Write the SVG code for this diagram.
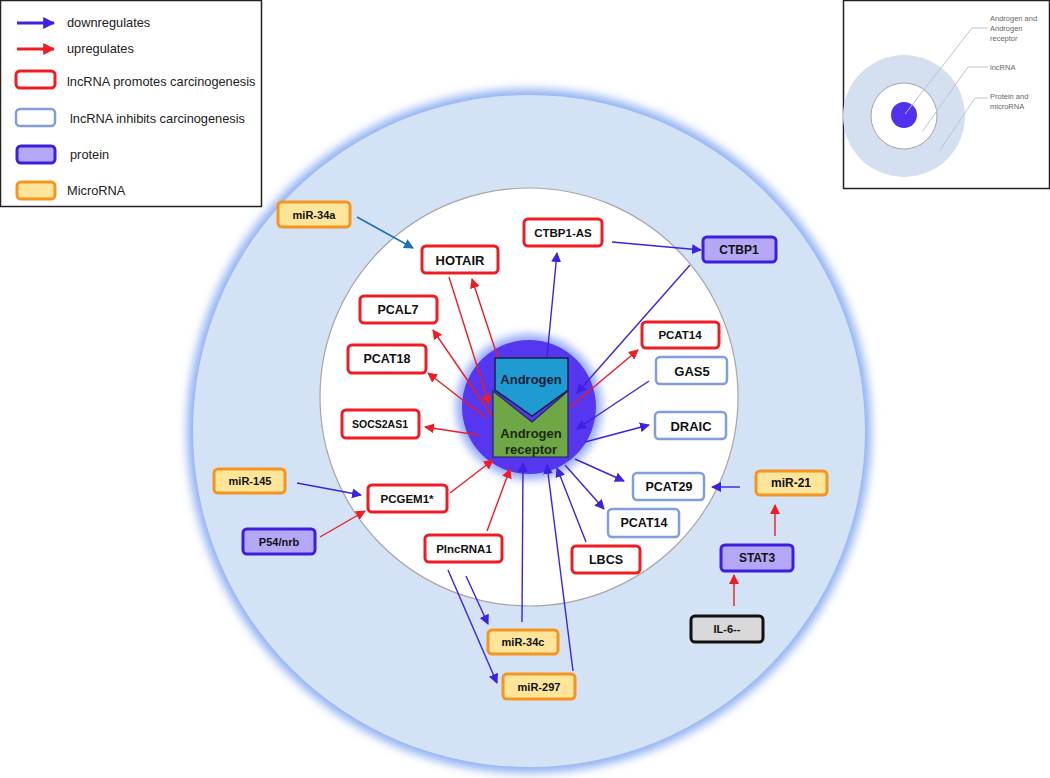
<svg xmlns="http://www.w3.org/2000/svg" width="1050" height="778" viewBox="0 0 1050 778">
<style>
text{font-family:"Liberation Sans",Arial,sans-serif;fill:#111}
.nt{font-weight:bold;text-anchor:middle;dominant-baseline:central}
.lg{font-size:12.8px;fill:#222}
.red{fill:#fff;stroke:#ee1c24;stroke-width:3}
.lb{fill:#fff;stroke:#7f9fd6;stroke-width:2.5}
.pr{fill:#b4a8f6;stroke:#3b1fdc;stroke-width:3}
.mi{fill:#ffe59a;stroke:#f5951f;stroke-width:3}
.gr{fill:#d9d9d9;stroke:#111;stroke-width:3}
.cb{stroke:#3d22e0;stroke-width:1.4;fill:none;marker-end:url(#hb)}
.cr{stroke:#ee1c24;stroke-width:1.4;fill:none;marker-end:url(#hr)}
.ct{stroke:#1f6fb5;stroke-width:1.6;fill:none;marker-end:url(#ht)}
.il{stroke:#b9c4d6;stroke-width:1;fill:none}
.it{font-size:7.5px;fill:#666}
</style>
<defs>
<marker id="hb" viewBox="0 0 10 10" refX="9" refY="5" markerWidth="10" markerHeight="10" markerUnits="userSpaceOnUse" orient="auto"><path d="M0,0L10,5L0,10z" fill="#3d22e0"/></marker>
<marker id="hr" viewBox="0 0 10 10" refX="9" refY="5" markerWidth="10" markerHeight="10" markerUnits="userSpaceOnUse" orient="auto"><path d="M0,0L10,5L0,10z" fill="#ee1c24"/></marker>
<marker id="ht" viewBox="0 0 10 10" refX="9" refY="5" markerWidth="10" markerHeight="10" markerUnits="userSpaceOnUse" orient="auto"><path d="M0,0L10,5L0,10z" fill="#1f6fb5"/></marker>
<marker id="lhb" viewBox="0 0 10 10" refX="9" refY="5" markerWidth="12" markerHeight="12" markerUnits="userSpaceOnUse" orient="auto"><path d="M0,0L10,5L0,10z" fill="#3d22e0"/></marker>
<marker id="lhr" viewBox="0 0 10 10" refX="9" refY="5" markerWidth="12" markerHeight="12" markerUnits="userSpaceOnUse" orient="auto"><path d="M0,0L10,5L0,10z" fill="#ee1c24"/></marker>
<filter id="blur6" x="-20%" y="-20%" width="140%" height="140%"><feGaussianBlur stdDeviation="5"/></filter>
<filter id="blur3" x="-30%" y="-30%" width="160%" height="160%"><feGaussianBlur stdDeviation="4"/></filter>
</defs>
<rect width="1050" height="778" fill="#fff"/>

<g id="background">
<circle cx="529" cy="431" r="342" fill="#8fb0f2" filter="url(#blur6)"/>
<circle cx="529" cy="431" r="336" fill="#d4e2f5"/>
<circle cx="529" cy="397" r="209" fill="#fff" stroke="#a6a6a6" stroke-width="1.2"/>
<circle cx="529" cy="407" r="73" fill="#98acff" filter="url(#blur3)"/>
<circle cx="529" cy="407" r="67" fill="#5636ef"/>
</g>

<g id="legend">
<rect x="0.5" y="0.5" width="261" height="206" fill="#fff" stroke="#222" stroke-width="1.5"/>
<line x1="17" y1="23" x2="54" y2="23" stroke="#3d22e0" stroke-width="3" marker-end="url(#lhb)"/>
<text class="lg" x="67" y="27">downregulates</text>
<line x1="17" y1="49" x2="54" y2="49" stroke="#ee1c24" stroke-width="3" marker-end="url(#lhr)"/>
<text class="lg" x="67" y="53">upregulates</text>
<rect x="16" y="71" width="39" height="17" rx="4" class="red" stroke-width="2"/>
<text class="lg" x="67" y="86">lncRNA promotes carcinogenesis</text>
<rect x="16" y="109" width="39" height="17" rx="4" class="lb" stroke-width="2"/>
<text class="lg" x="70" y="123">lncRNA inhibits carcinogenesis</text>
<rect x="17" y="146" width="38" height="17" rx="4" class="pr" stroke-width="2" stroke="#3a1a8a"/>
<text class="lg" x="70" y="159">protein</text>
<rect x="17" y="182" width="38" height="17" rx="4" class="mi" stroke-width="2"/>
<text class="lg" x="67" y="195">MicroRNA</text>
</g>

<g id="inset">
<rect x="843.5" y="0.5" width="206" height="188" fill="#fff" stroke="#222" stroke-width="1.5"/>
<circle cx="904" cy="116" r="61" fill="#d4dff0"/>
<circle cx="904" cy="116" r="33" fill="#fff" stroke="#a6a6a6" stroke-width="1"/>
<circle cx="904" cy="115" r="13" fill="#5230ee"/>
<polyline class="il" points="905,114 972,28 988,28"/>
<polyline class="il" points="922,132 968,67 988,67"/>
<polyline class="il" points="940,150 975,98 988,98"/>
<text class="it" x="990" y="21">Androgen and</text>
<text class="it" x="990" y="31">Androgen</text>
<text class="it" x="990" y="41">receptor</text>
<text class="it" x="990" y="70">lncRNA</text>
<text class="it" x="990" y="99">Protein and</text>
<text class="it" x="990" y="109">microRNA</text>
</g>

<g id="connectors">
<line class="ct" x1="357" y1="217" x2="413" y2="248"/>
<line class="cr" x1="449" y1="277" x2="489" y2="404"/>
<line class="cr" x1="498" y1="358" x2="472" y2="279"/>
<line class="cb" x1="547" y1="357" x2="557" y2="253"/>
<line class="cb" x1="612" y1="242" x2="701" y2="250"/>
<line class="cb" x1="690" y1="265" x2="577" y2="393"/>
<line class="cr" x1="570" y1="407" x2="638" y2="350"/>
<line class="cb" x1="649" y1="381" x2="577" y2="429"/>
<line class="cb" x1="585" y1="442" x2="649" y2="425"/>
<line class="cb" x1="575" y1="459" x2="624" y2="481"/>
<line class="cb" x1="565" y1="465" x2="604" y2="509"/>
<line class="cb" x1="586" y1="542" x2="557" y2="468"/>
<line class="cb" x1="522" y1="622" x2="523" y2="463"/>
<line class="cb" x1="573" y1="671" x2="547" y2="465"/>
<line class="cr" x1="487" y1="531" x2="510" y2="469"/>
<line class="cr" x1="450" y1="493" x2="493" y2="460"/>
<line class="cb" x1="297" y1="483" x2="361" y2="495"/>
<line class="cr" x1="320" y1="537" x2="365" y2="511"/>
<line class="cb" x1="466" y1="576" x2="488" y2="624"/>
<line class="cb" x1="448" y1="570" x2="497" y2="683"/>
<line class="cb" x1="740" y1="487" x2="712" y2="487"/>
<line class="cr" x1="775" y1="536" x2="775" y2="505"/>
<line class="cr" x1="734" y1="606" x2="734" y2="575"/>
<line class="cr" x1="492" y1="416" x2="433" y2="330"/>
<line class="cr" x1="486" y1="418" x2="428" y2="373"/>
<line class="cr" x1="478" y1="435" x2="425" y2="427"/>
</g>

<g id="androgen-receptor">
<polygon points="493,391 532,422 568,391 568,457 493,457" fill="#6fa746" stroke="#1d2a55" stroke-width="1.2"/>
<text class="nt" x="531" y="433" font-size="13" style="fill:#1a2a10">Androgen</text>
<text class="nt" x="531" y="449" font-size="13" style="fill:#1a2a10">receptor</text>
</g>
<g id="androgen">
<polygon points="495,358 568,358 568,390 532,416 495,390" fill="#1f9bd2" stroke="#1b1f4a" stroke-width="1.5"/>
<text class="nt" x="531" y="379" font-size="13" style="fill:#12203a">Androgen</text>
</g>

<g id="miR-34a"><rect x="278" y="202" width="72" height="25" rx="4" class="mi"/><text class="nt" x="314" y="215" font-size="11">miR-34a</text></g>
<g id="HOTAIR"><rect x="422" y="246" width="76" height="27" rx="4" class="red"/><text class="nt" x="460" y="260" font-size="13">HOTAIR</text></g>
<g id="CTBP1-AS"><rect x="524" y="219" width="78" height="27" rx="4" class="red"/><text class="nt" x="563" y="233" font-size="11.5">CTBP1-AS</text></g>
<g id="CTBP1"><rect x="703" y="237" width="73" height="25" rx="4" class="pr"/><text class="nt" x="739" y="250" font-size="12">CTBP1</text></g>
<g id="PCAL7"><rect x="360" y="296" width="77" height="27" rx="4" class="red"/><text class="nt" x="398" y="310" font-size="12.5">PCAL7</text></g>
<g id="PCAT18"><rect x="348" y="345" width="78" height="28" rx="4" class="red"/><text class="nt" x="387" y="359" font-size="12.5">PCAT18</text></g>
<g id="SOCS2AS1"><rect x="342" y="410" width="77" height="28" rx="4" class="red"/><text class="nt" x="380" y="424" font-size="10.5">SOCS2AS1</text></g>
<g id="PCAT14-red"><rect x="642" y="322" width="77" height="26" rx="4" class="red"/><text class="nt" x="680" y="335" font-size="11.5">PCAT14</text></g>
<g id="GAS5"><rect x="656" y="357" width="71" height="27" rx="4" class="lb"/><text class="nt" x="692" y="371" font-size="13">GAS5</text></g>
<g id="DRAIC"><rect x="655" y="412" width="71" height="27" rx="4" class="lb"/><text class="nt" x="691" y="426" font-size="13">DRAIC</text></g>
<g id="PCGEM1"><rect x="368" y="485" width="79" height="27" rx="4" class="red"/><text class="nt" x="407" y="499" font-size="11.5">PCGEM1*</text></g>
<g id="miR-145"><rect x="214" y="469" width="71" height="24" rx="4" class="mi"/><text class="nt" x="250" y="481" font-size="11">miR-145</text></g>
<g id="P54-nrb"><rect x="243" y="529" width="72" height="25" rx="4" class="pr"/><text class="nt" x="279" y="542" font-size="11">P54/nrb</text></g>
<g id="PlncRNA1"><rect x="425" y="535" width="77" height="27" rx="4" class="red"/><text class="nt" x="464" y="549" font-size="11.5">PlncRNA1</text></g>
<g id="PCAT29"><rect x="633" y="473" width="71" height="27" rx="4" class="lb"/><text class="nt" x="669" y="487" font-size="12.5">PCAT29</text></g>
<g id="PCAT14-blue"><rect x="608" y="509" width="71" height="28" rx="4" class="lb"/><text class="nt" x="644" y="523" font-size="12.5">PCAT14</text></g>
<g id="LBCS"><rect x="572" y="546" width="68" height="27" rx="4" class="red" stroke="#e8203c"/><text class="nt" x="606" y="560" font-size="12.5">LBCS</text></g>
<g id="miR-21"><rect x="756" y="471" width="71" height="24" rx="4" class="mi"/><text class="nt" x="791" y="483" font-size="12">miR-21</text></g>
<g id="STAT3"><rect x="721" y="545" width="72" height="26" rx="4" class="pr"/><text class="nt" x="757" y="558" font-size="12">STAT3</text></g>
<g id="IL-6"><rect x="691" y="616" width="72" height="26" rx="4" class="gr"/><text class="nt" x="727" y="629" font-size="11">IL-6--</text></g>
<g id="miR-34c"><rect x="488" y="630" width="70" height="24" rx="4" class="mi"/><text class="nt" x="523" y="642" font-size="11">miR-34c</text></g>
<g id="miR-297"><rect x="503" y="674" width="72" height="25" rx="4" class="mi"/><text class="nt" x="539" y="687" font-size="11">miR-297</text></g>
</svg>
